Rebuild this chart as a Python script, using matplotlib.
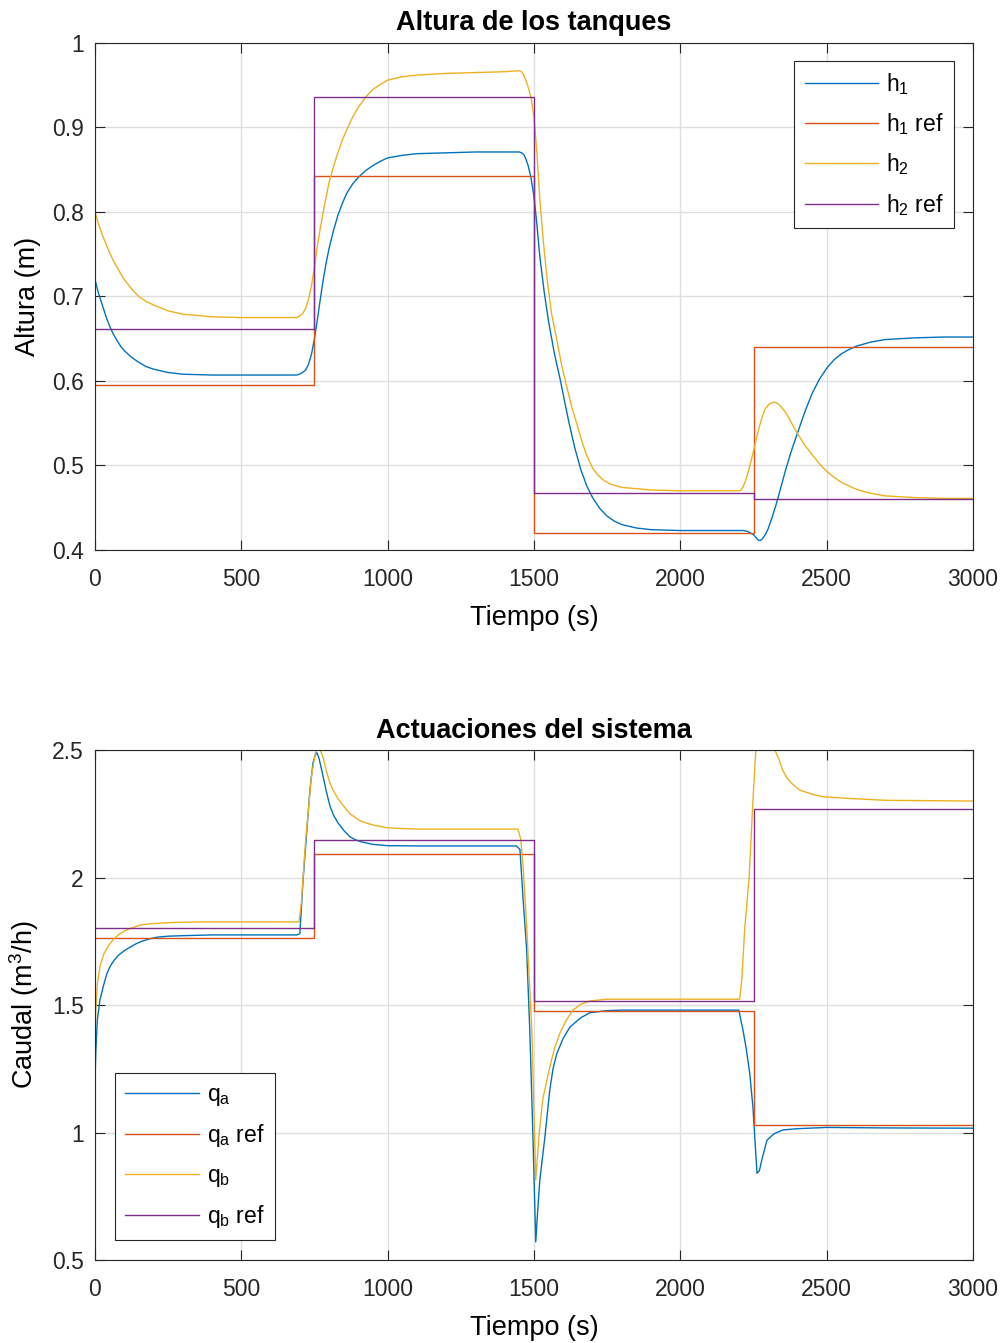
import numpy as np
import matplotlib.pyplot as plt
from matplotlib.ticker import FuncFormatter

plt.rcParams['font.family'] = ['Liberation Sans', 'DejaVu Sans']
plt.rcParams['mathtext.default'] = 'regular'

# MATLAB default colours
c_blue, c_orange, c_yellow, c_purple = '#0072BD', '#D95319', '#EDB120', '#7E2F8E'

# ---- Top panel: tank heights ----
t_ref = [0, 750, 750, 1500, 1500, 2250, 2250, 3000]
h1_ref = [0.595, 0.595, 0.843, 0.843, 0.420, 0.420, 0.640, 0.640]
h2_ref = [0.662, 0.662, 0.936, 0.936, 0.468, 0.468, 0.460, 0.460]

t_h1 = [0, 12, 25, 38, 50, 62, 75, 88, 100, 125, 150, 175, 200, 250, 300, 400, 500, 600,
        690, 705, 720, 730, 740, 750, 760, 770, 780, 790, 800, 815, 830, 845, 860, 880,
        900, 925, 950, 975, 1000, 1050, 1100, 1200, 1300, 1400, 1450, 1458, 1465, 1472,
        1480, 1490, 1500, 1510, 1520, 1535, 1550, 1570, 1590, 1605, 1620, 1640, 1660, 1680,
        1700, 1725, 1750, 1775, 1800, 1850, 1900, 2000, 2100, 2200, 2215, 2230, 2240, 2250,
        2258, 2265, 2272, 2280, 2290, 2300, 2315, 2330, 2345, 2360, 2380, 2400, 2425, 2450,
        2475, 2500, 2525, 2550, 2575, 2600, 2650, 2700, 2800, 2900, 3000]
h1 = [0.720, 0.704, 0.690, 0.676, 0.665, 0.656, 0.648, 0.641, 0.636, 0.628, 0.622, 0.617,
      0.614, 0.610, 0.608, 0.607, 0.607, 0.607, 0.607, 0.609, 0.613, 0.620, 0.632, 0.650,
      0.673, 0.697, 0.720, 0.740, 0.757, 0.778, 0.796, 0.810, 0.822, 0.833, 0.841, 0.849,
      0.855, 0.860, 0.864, 0.867, 0.869, 0.870, 0.871, 0.871, 0.871, 0.870, 0.868, 0.863,
      0.855, 0.840, 0.818, 0.785, 0.747, 0.705, 0.670, 0.632, 0.601, 0.575, 0.550, 0.520,
      0.495, 0.476, 0.462, 0.449, 0.440, 0.434, 0.430, 0.426, 0.424, 0.423, 0.423, 0.423,
      0.423, 0.422, 0.420, 0.418, 0.415, 0.412, 0.411, 0.413, 0.418, 0.425, 0.440, 0.457,
      0.476, 0.495, 0.518, 0.538, 0.563, 0.585, 0.602, 0.615, 0.625, 0.632, 0.637, 0.641,
      0.646, 0.649, 0.651, 0.652, 0.652]

t_h2 = [0, 12, 25, 38, 50, 62, 75, 88, 100, 125, 150, 175, 200, 250, 300, 400, 500, 600,
        690, 700, 710, 720, 730, 740, 750, 760, 770, 780, 790, 800, 815, 830, 845, 860,
        880, 900, 925, 950, 975, 1000, 1050, 1100, 1200, 1300, 1400, 1440, 1450, 1458,
        1465, 1472, 1480, 1490, 1500, 1510, 1520, 1532, 1545, 1560, 1580, 1595, 1612, 1630,
        1650, 1665, 1680, 1700, 1720, 1740, 1760, 1800, 1900, 2000, 2100, 2200, 2208, 2215,
        2222, 2230, 2240, 2250, 2260, 2270, 2280, 2290, 2305, 2320, 2330, 2340, 2355, 2370,
        2385, 2400, 2425, 2450, 2475, 2500, 2525, 2550, 2575, 2600, 2650, 2700, 2800, 2900,
        3000]
h2 = [0.800, 0.786, 0.773, 0.762, 0.752, 0.743, 0.735, 0.727, 0.720, 0.709, 0.700, 0.694,
      0.690, 0.683, 0.679, 0.676, 0.675, 0.675, 0.675, 0.677, 0.680, 0.686, 0.697, 0.713,
      0.735, 0.760, 0.781, 0.800, 0.818, 0.835, 0.854, 0.870, 0.885, 0.897, 0.912, 0.924,
      0.936, 0.945, 0.951, 0.956, 0.960, 0.962, 0.964, 0.965, 0.966, 0.967, 0.967, 0.966,
      0.962, 0.956, 0.948, 0.935, 0.912, 0.870, 0.815, 0.765, 0.720, 0.680, 0.645, 0.618,
      0.593, 0.568, 0.545, 0.527, 0.512, 0.497, 0.488, 0.482, 0.478, 0.474, 0.471, 0.470,
      0.470, 0.470, 0.471, 0.475, 0.481, 0.490, 0.503, 0.517, 0.532, 0.546, 0.558, 0.567,
      0.573, 0.575, 0.574, 0.571, 0.565, 0.557, 0.547, 0.538, 0.524, 0.513, 0.502, 0.493,
      0.486, 0.480, 0.476, 0.472, 0.467, 0.464, 0.462, 0.461, 0.461]

# ---- Bottom panel: flows ----
qa_ref = [1.763, 1.763, 2.092, 2.092, 1.476, 1.476, 1.029, 1.029]
qb_ref = [1.804, 1.804, 2.147, 2.147, 1.516, 1.516, 2.269, 2.269]

t_qa = [0, 3, 8, 17, 30, 40, 51, 65, 80, 100, 120, 140, 160, 185, 211, 250, 300, 400, 500,
        600, 690, 700, 711, 725, 735, 745, 752, 758, 765, 775, 790, 803, 815, 830, 850, 871,
        890, 910, 950, 1000, 1100, 1200, 1300, 1440, 1452, 1463, 1475, 1486, 1496, 1506,
        1513, 1520, 1537, 1554, 1565, 1578, 1600, 1623, 1660, 1691, 1750, 1800, 2000, 2200,
        2207, 2214, 2225, 2237, 2248, 2262, 2270, 2280, 2296, 2320, 2350, 2400, 2500, 2700,
        3000]
qa = [1.20, 1.32, 1.44, 1.52, 1.58, 1.62, 1.65, 1.675, 1.695, 1.713, 1.727, 1.74, 1.75,
      1.759, 1.766, 1.77, 1.772, 1.775, 1.775, 1.775, 1.775, 1.78, 1.99, 2.20, 2.35, 2.45,
      2.48, 2.49, 2.47, 2.42, 2.34, 2.28, 2.245, 2.215, 2.185, 2.16, 2.148, 2.14, 2.13, 2.125,
      2.124, 2.124, 2.124, 2.124, 2.11, 1.912, 1.716, 1.39, 1.00, 0.571, 0.70, 0.814, 0.98,
      1.167, 1.25, 1.31, 1.37, 1.414, 1.45, 1.47, 1.478, 1.48, 1.48, 1.48, 1.44, 1.402, 1.33,
      1.233, 1.10, 0.84, 0.85, 0.90, 0.97, 0.995, 1.01, 1.015, 1.02, 1.018, 1.017]

t_qb = [0, 3, 8, 17, 30, 40, 51, 65, 80, 100, 120, 140, 160, 185, 211, 250, 300, 400, 500,
        600, 697, 705, 720, 740, 755, 770, 780, 790, 803, 815, 830, 850, 871, 890, 910, 950,
        1000, 1100, 1300, 1445, 1455, 1463, 1475, 1493, 1506, 1518, 1530, 1554, 1570, 1589,
        1610, 1633, 1660, 1691, 1750, 2000, 2203, 2210, 2220, 2235, 2248, 2258, 2323, 2335,
        2350, 2365, 2380, 2408, 2450, 2487, 2580, 2700, 3000]
qb = [1.40, 1.48, 1.58, 1.65, 1.70, 1.72, 1.74, 1.76, 1.775, 1.79, 1.80, 1.808, 1.815,
      1.818, 1.82, 1.823, 1.825, 1.826, 1.826, 1.826, 1.826, 1.90, 2.15, 2.40, 2.50, 2.50,
      2.47, 2.42, 2.37, 2.34, 2.31, 2.28, 2.25, 2.235, 2.22, 2.206, 2.195, 2.19, 2.19, 2.19,
      2.15, 2.04, 1.81, 1.39, 0.814, 1.00, 1.13, 1.257, 1.33, 1.39, 1.44, 1.48, 1.503, 1.516,
      1.523, 1.523, 1.523, 1.60, 1.80, 2.00, 2.30, 2.50, 2.50, 2.47, 2.42, 2.39, 2.37, 2.343,
      2.327, 2.317, 2.31, 2.303, 2.30]

fmt = FuncFormatter(lambda v, p: '%g' % round(v, 3))


def style_axes(ax):
    ax.grid(True, color='#dfdfdf', linewidth=1.0)
    ax.set_axisbelow(True)
    ax.tick_params(direction='in', top=True, right=True, length=7, width=0.8,
                   labelsize=16.5, colors='#262626', pad=8)
    ax.tick_params(axis='x', pad=13)
    for s in ax.spines.values():
        s.set_color('#262626')
        s.set_linewidth(0.8)
    ax.xaxis.set_major_formatter(fmt)
    ax.yaxis.set_major_formatter(fmt)


def add_legend(ax, loc, anchor):
    leg = ax.legend(loc=loc, bbox_to_anchor=anchor, fontsize=16.5, fancybox=False,
                    framealpha=1, edgecolor='#262626', handlelength=3.2,
                    handletextpad=0.35, labelspacing=0.62, borderpad=0.45,
                    borderaxespad=0)
    leg.get_frame().set_linewidth(0.8)
    return leg


fig = plt.figure(figsize=(10.08, 13.43), dpi=100)

ax1 = fig.add_axes([0.0942, 0.5905, 0.8711, 0.3775])
ax1.plot(t_h1, h1, color=c_blue, lw=1.0, label='h$_1$')
ax1.plot(t_ref, h1_ref, color=c_orange, lw=1.0, label='h$_1$ ref')
ax1.plot(t_h2, h2, color=c_yellow, lw=1.0, label='h$_2$')
ax1.plot(t_ref, h2_ref, color=c_purple, lw=1.0, label='h$_2$ ref')
ax1.set_xlim(0, 3000)
ax1.set_ylim(0.4, 1.0)
ax1.set_xticks([0, 500, 1000, 1500, 2000, 2500, 3000])
ax1.set_yticks([0.4, 0.5, 0.6, 0.7, 0.8, 0.9, 1.0])
style_axes(ax1)
ax1.set_title('Altura de los tanques', fontsize=19.5, fontweight='bold', pad=9)
ax1.set_xlabel('Tiempo (s)', fontsize=19.5, labelpad=10)
ax1.set_ylabel('Altura (m)', fontsize=19.5, labelpad=8)
add_legend(ax1, 'upper right', (0.9784, 0.9645))

ax2 = fig.add_axes([0.0942, 0.0618, 0.8711, 0.3797])
ax2.plot(t_qa, qa, color=c_blue, lw=1.0, label='q$_a$')
ax2.plot(t_ref, qa_ref, color=c_orange, lw=1.0, label='q$_a$ ref')
ax2.plot(t_qb, qb, color=c_yellow, lw=1.0, label='q$_b$')
ax2.plot(t_ref, qb_ref, color=c_purple, lw=1.0, label='q$_b$ ref')
ax2.set_xlim(0, 3000)
ax2.set_ylim(0.5, 2.5)
ax2.set_xticks([0, 500, 1000, 1500, 2000, 2500, 3000])
ax2.set_yticks([0.5, 1.0, 1.5, 2.0, 2.5])
style_axes(ax2)
ax2.set_title('Actuaciones del sistema', fontsize=19.5, fontweight='bold', pad=9)
ax2.set_xlabel('Tiempo (s)', fontsize=19.5, labelpad=10)
ax2.set_ylabel('Caudal (m$^3$/h)', fontsize=19.5, labelpad=8)
add_legend(ax2, 'lower left', (0.0228, 0.039))

fig.savefig('out.png', dpi=100)
